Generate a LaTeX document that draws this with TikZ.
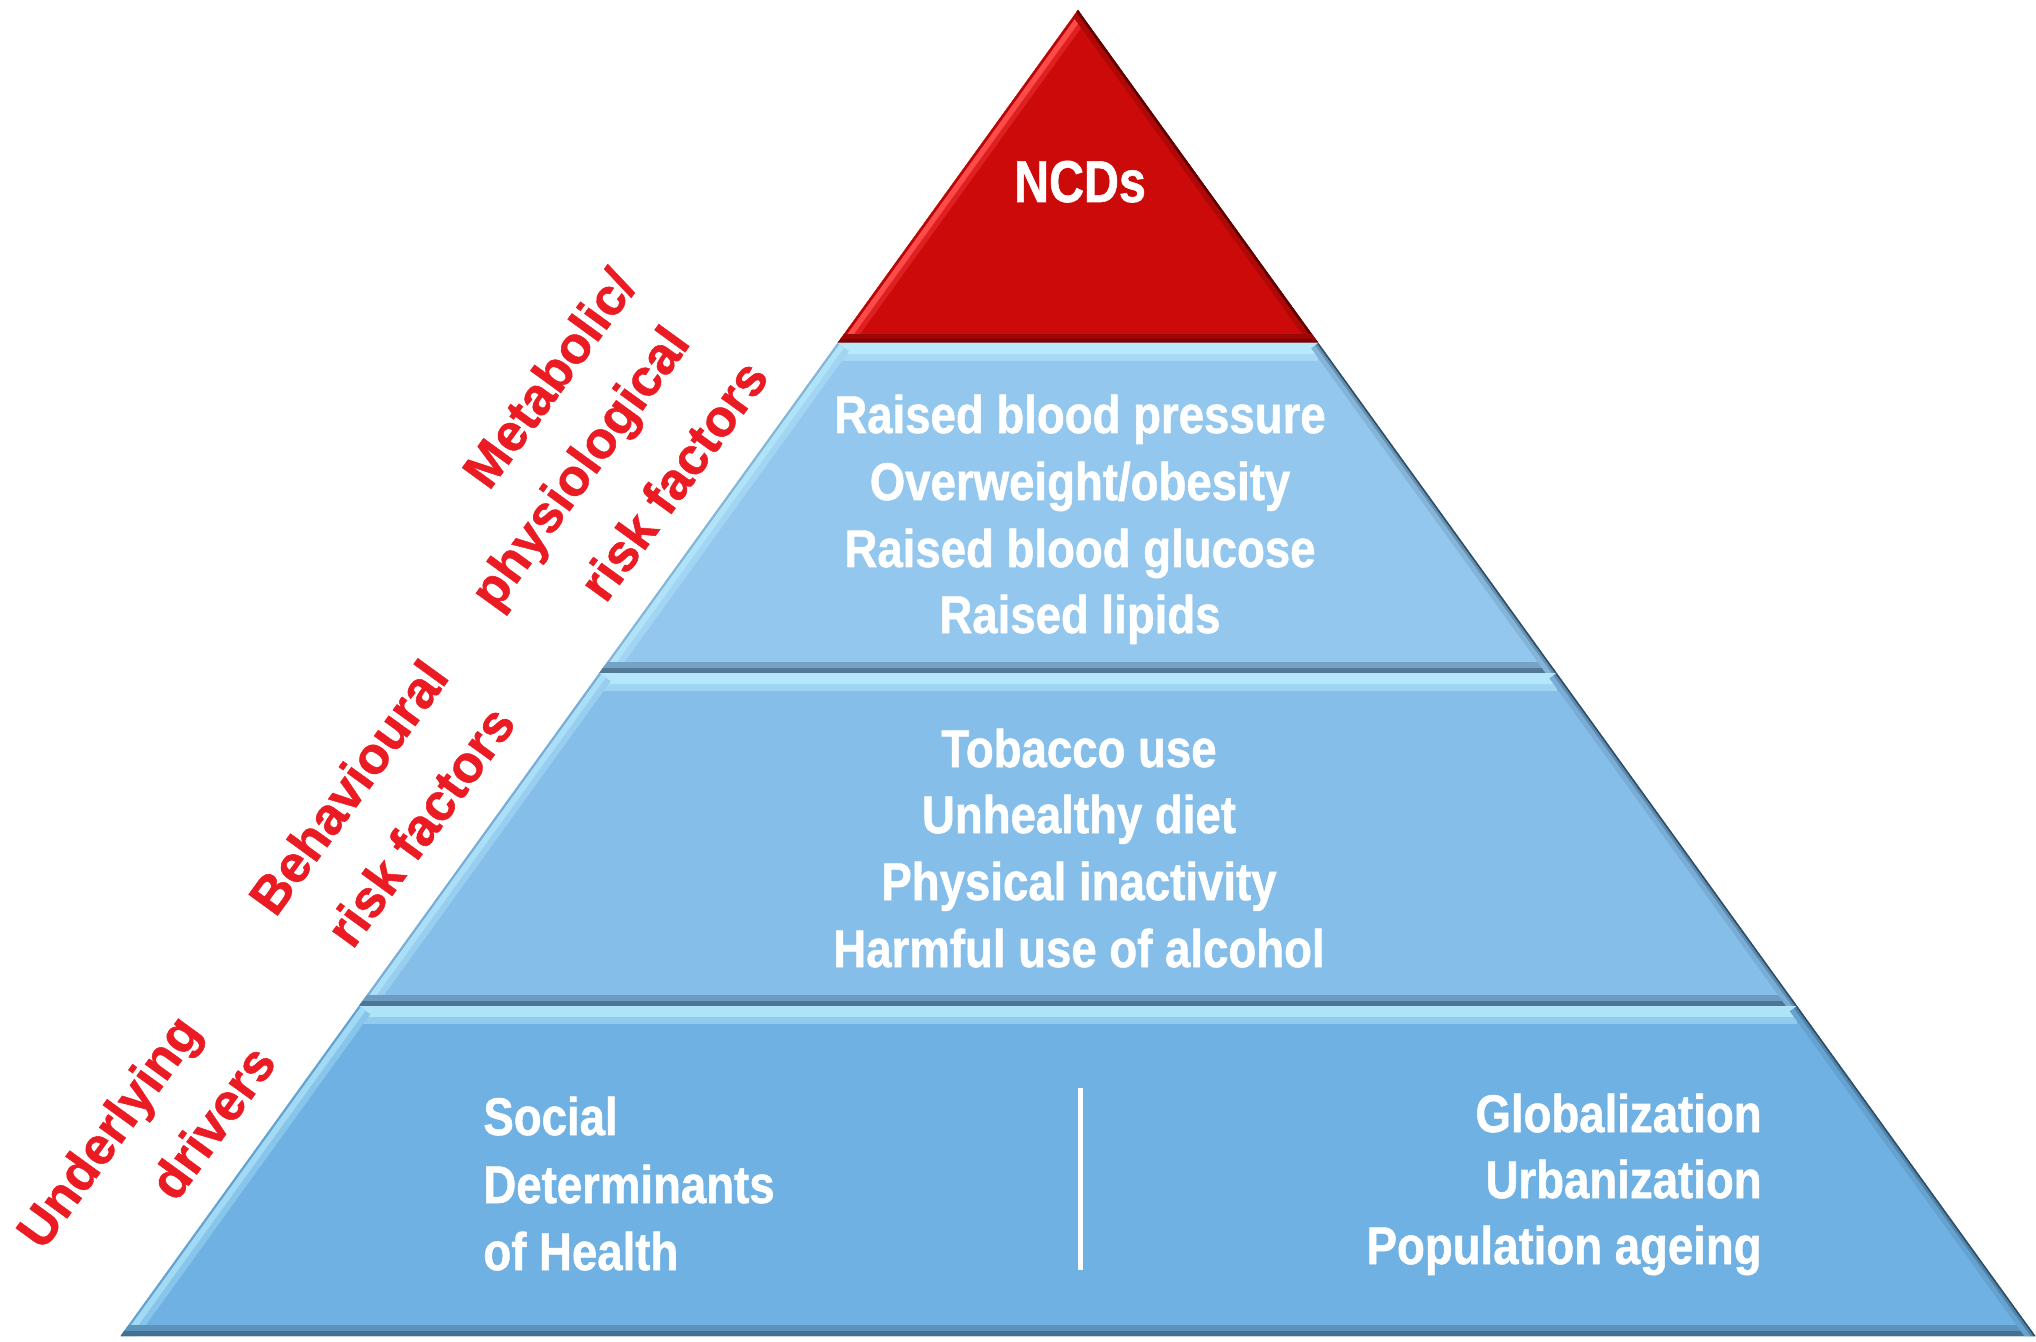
\documentclass[tikz,border=0pt]{standalone}
\usepackage{fontspec}
\newfontfamily\tierfont[FakeStretch=0.86,BoldFeatures={FakeBold=1}]{Liberation Sans}
\newfontfamily\apexfont[FakeStretch=0.82,BoldFeatures={FakeBold=1}]{Liberation Sans}
\newfontfamily\sidefont[BoldFeatures={FakeBold=1}]{Liberation Sans}

\definecolor{ncdred}{HTML}{CC0A0A}
\definecolor{ncdhi}{HTML}{FF4A4A}
\definecolor{ncdlow}{HTML}{5E0000}
\definecolor{tiertwo}{HTML}{93C7ED}
\definecolor{tierthree}{HTML}{86BEEA}
\definecolor{tierbase}{HTML}{6FB1E2}
\definecolor{hilite}{HTML}{C4F4FF}
\definecolor{lowlite}{HTML}{2F4E66}
\definecolor{labelred}{HTML}{EA1B23}

% One bevelled trapezoid layer: corners TL, TR, BR, BL and its face colour
\newcommand\bevelblock[5]{%
  \begin{scope}
    \clip (#1) -- (#2) -- (#3) -- (#4) -- cycle;
    \fill[#5] (#1) -- (#2) -- (#3) -- (#4) -- cycle;
    \draw[line width=18pt,#5!60!hilite] (#1) -- (#2);
    \draw[line width=11pt,#5!25!hilite] (#1) -- (#2);
    \draw[line width=14pt,#5!70!hilite] (#4) -- (#1);
    \draw[line width=8pt,#5!40!hilite] (#4) -- (#1);
    \draw[line width=2pt,#5!85!lowlite] (#4) -- (#1);
    \draw[line width=11pt,#5!70!lowlite] (#4) -- (#3);
    \draw[line width=5pt,#5!35!lowlite] (#4) -- (#3);
    \draw[line width=9pt,#5!85!lowlite] (#2) -- (#3);
    \draw[line width=4pt,#5!55!lowlite] (#2) -- (#3);
    \draw[line width=1.5pt,lowlite] (#2) -- (#3);
  \end{scope}}

\tikzset{
  tiertext/.style={text=white, inner sep=0pt, anchor=base,
    font=\tierfont\bfseries\fontsize{26.5pt}{26.5pt}\selectfont},
  apextext/.style={text=white, inner sep=0pt, anchor=base,
    font=\apexfont\bfseries\fontsize{29.5pt}{29.5pt}\selectfont},
  sidelabel/.style={text=labelred, inner sep=0pt, anchor=center, rotate=54,
    font=\sidefont\bfseries\fontsize{26pt}{26pt}\selectfont},
}

\begin{document}
\begin{tikzpicture}[x=0.5pt,y=-0.5pt]
  \fill[white] (0,0) rectangle (2036,1342);
  \useasboundingbox (0,0) rectangle (2036,1342);

  % pyramid outline points
  \coordinate (apex) at (1078,10);
  \coordinate (ncdl) at (837.6,343);
  \coordinate (ncdr) at (1318.4,343);
  \coordinate (twol) at (599.3,673);
  \coordinate (twor) at (1556.7,673);
  \coordinate (threel) at (358.9,1006);
  \coordinate (threer) at (1797.1,1006);
  \coordinate (basel) at (120.6,1336);
  \coordinate (baser) at (2035.4,1336);

  % apex triangle
  \begin{scope}
    \clip (apex) -- (ncdr) -- (ncdl) -- cycle;
    \fill[ncdred] (apex) -- (ncdr) -- (ncdl) -- cycle;
    \draw[line width=13pt,ncdred!65!ncdhi] (ncdl) -- (apex);
    \draw[line width=8pt,ncdhi] (ncdl) -- (apex);
    \draw[line width=2.5pt,ncdred!80!ncdlow] (ncdl) -- (apex);
    \draw[line width=8pt,ncdred!75!ncdlow] (apex) -- (ncdr);
    \draw[line width=2.5pt,ncdlow] (apex) -- (ncdr);
    \draw[line width=9pt,ncdred!55!ncdlow] (ncdl) -- (ncdr);
    \draw[line width=4pt,ncdred!30!ncdlow] (ncdl) -- (ncdr);
  \end{scope}

  % lower layers
  \bevelblock{ncdl}{ncdr}{twor}{twol}{tiertwo}
  \bevelblock{twol}{twor}{threer}{threel}{tierthree}
  \bevelblock{threel}{threer}{baser}{basel}{tierbase}

  % apex text
  \node[apextext] (ncd) at (1080,202) {NCDs};

  % metabolic layer
  \node[tiertext] (bp)   at (1080,433) {Raised blood pressure};
  \node[tiertext] (ow)   at (1080,500) {Overweight/obesity};
  \node[tiertext] (bg)   at (1080,567) {Raised blood glucose};
  \node[tiertext] (lip)  at (1080,633) {Raised lipids};

  % behavioural layer
  \node[tiertext] (tob)  at (1079,767) {Tobacco use};
  \node[tiertext] (diet) at (1079,833) {Unhealthy diet};
  \node[tiertext] (pa)   at (1079,900) {Physical inactivity};
  \node[tiertext] (alc)  at (1079,967) {Harmful use of alcohol};

  % base layer
  \node[tiertext,anchor=base west] (soc)  at (483,1135) {Social};
  \node[tiertext,anchor=base west] (det)  at (483,1203) {Determinants};
  \node[tiertext,anchor=base west] (hlth) at (483,1270) {of Health};
  \node[tiertext,anchor=base east] (glob) at (1762,1132) {Globalization};
  \node[tiertext,anchor=base east] (urb)  at (1762,1198) {Urbanization};
  \node[tiertext,anchor=base east] (age)  at (1762,1264) {Population ageing};
  \coordinate (divtop) at (1080,1088);
  \coordinate (divbot) at (1080,1270);
  \draw[white,line width=2.5pt] (divtop) -- (divbot);

  % side labels
  \node[sidelabel] (metab) at (549,378) {Metabolic/};
  \node[sidelabel] (phys)  at (583,470) {physiological};
  \node[sidelabel] (mrisk) at (673,480) {risk factors};
  \node[sidelabel] (behav) at (348,787) {Behavioural};
  \node[sidelabel] (brisk) at (420,826) {risk factors};
  \node[sidelabel] (under) at (112,1134) {Underlying};
  \node[sidelabel] (drv)   at (212,1122) {drivers};
\end{tikzpicture}
\end{document}
